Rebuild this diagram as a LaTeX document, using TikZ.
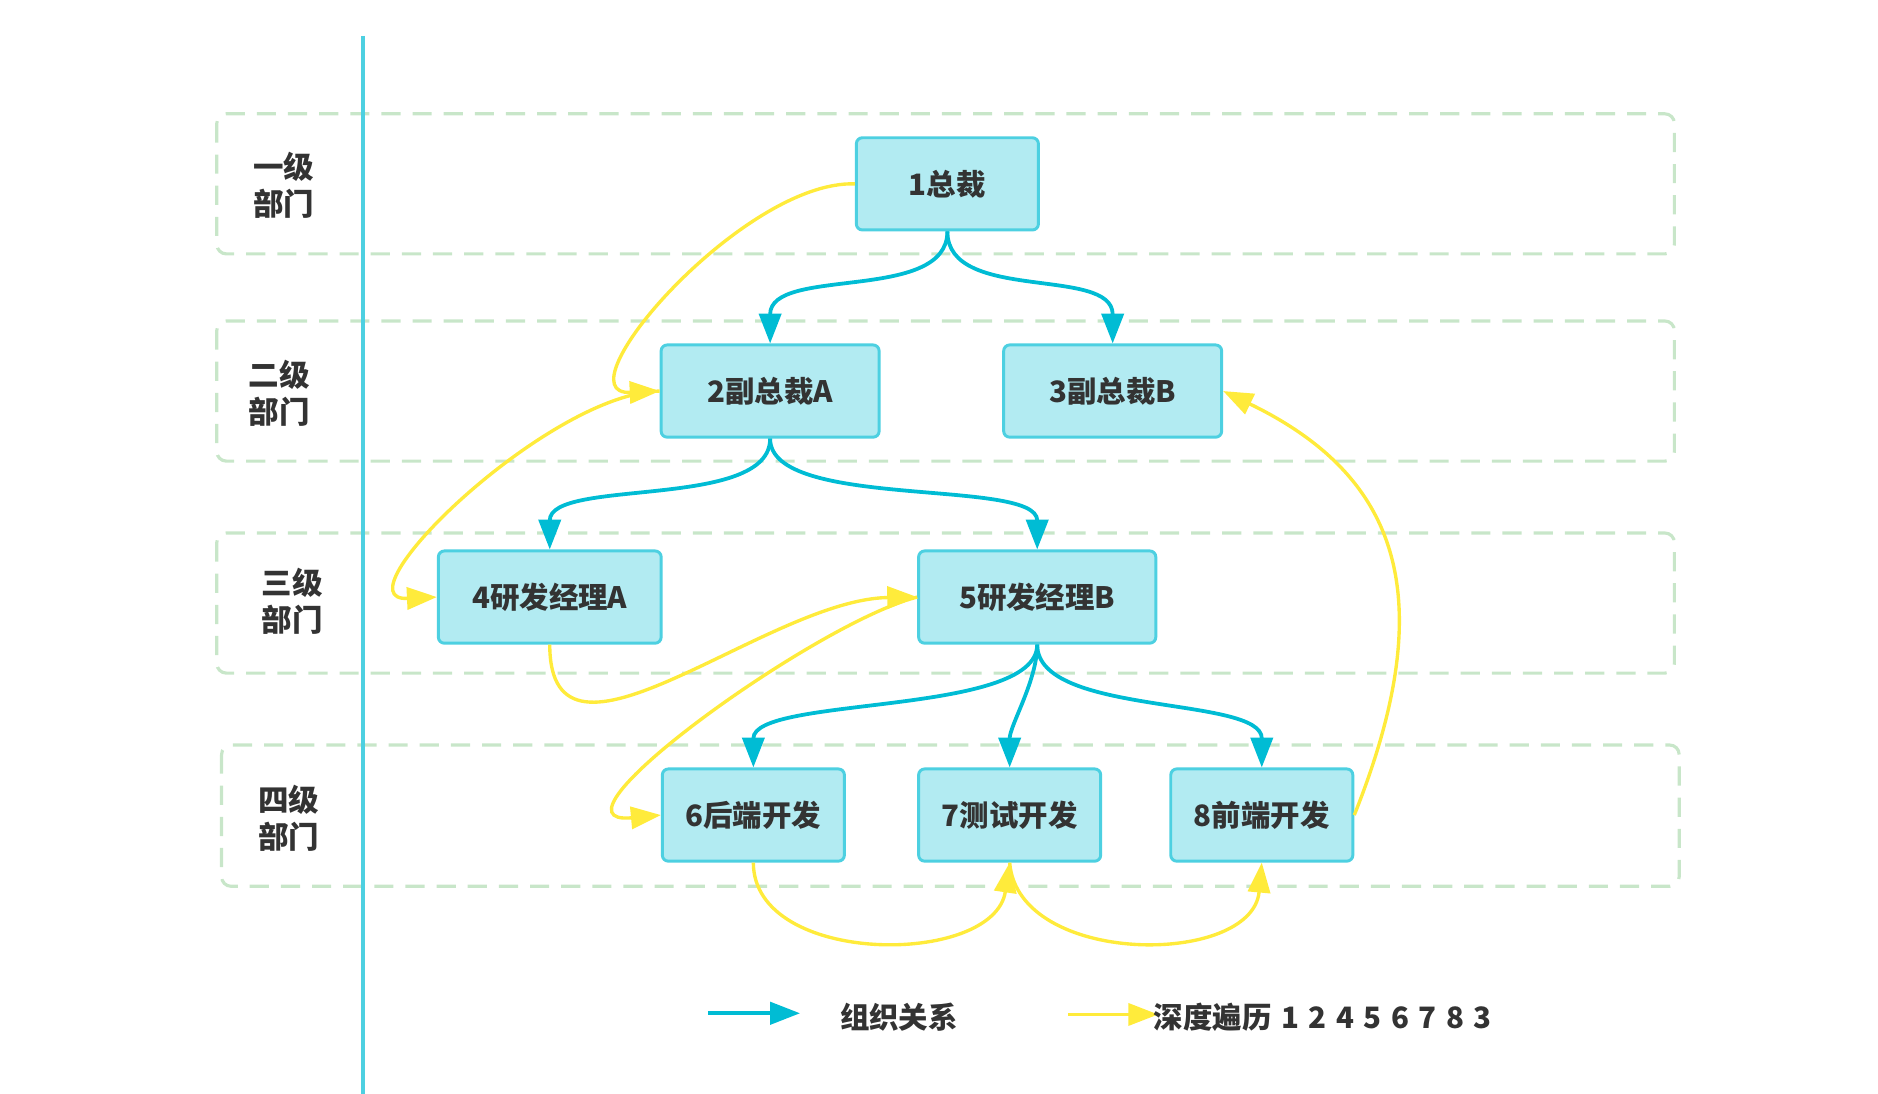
\documentclass[tikz,border=0pt]{standalone}
\usepackage{fontspec}
\setmainfont{Noto Sans CJK SC}
\usetikzlibrary{arrows.meta}
\definecolor{orgblue}{HTML}{00BCD4}
\definecolor{dfsyellow}{HTML}{FFEB3B}
\definecolor{boxfill}{HTML}{B2EBF2}
\definecolor{boxline}{HTML}{4DD0E1}
\definecolor{lanegreen}{HTML}{C8E6C9}
\definecolor{txt}{HTML}{333333}

\begin{document}
\begin{tikzpicture}[x=0.2mm,y=-0.2mm,>={Triangle[length=5mm,width=3.7mm]},
    lane/.style={draw=lanegreen,line width=1.5pt,dash pattern=on 3.2mm off 2mm,rounded corners=1.6mm},
    lanetext/.style={text=txt,font=\fontsize{14.5}{17.6}\selectfont\bfseries,align=center},
    keytext/.style={text=txt,font=\fontsize{14}{17}\selectfont\bfseries,
      execute at begin node={\spaceskip=1.6mm\relax},inner sep=0pt,anchor=west},
    dept/.style={draw=boxline,fill=boxfill,line width=1.4pt,rounded corners=1mm,
      minimum height=15.4mm,text=txt,font=\fontsize{14}{17}\selectfont\bfseries},
    org/.style={draw=orgblue,line width=1.8pt,->},
    dfs/.style={draw=dfsyellow,line width=1.6pt,->}]
  \useasboundingbox (0,0) rectangle (1568,913);
  % lanes
  \draw[lane] (181,95) rectangle (1398,212);
  \draw[lane] (181,268) rectangle (1398,385);
  \draw[lane] (181,445) rectangle (1398,562);
  \draw[lane] (185,622) rectangle (1402,740);
  \draw[boxline,line width=1.9pt] (303,30) -- (303,913);
  \node[lanetext] (lv1) at (237,155) {一级\\部门};
  \node[lanetext] (lv2) at (233,328) {二级\\部门};
  \node[lanetext] (lv3) at (244,502) {三级\\部门};
  \node[lanetext] (lv4) at (241,683) {四级\\部门};
  % departments
  \node[dept,minimum width=30.4mm] (n1) at (791,153.5) {1总裁};
  \node[dept,minimum width=36.4mm] (n2) at (643,326.5) {2副总裁A};
  \node[dept,minimum width=36.4mm] (n3) at (929,326.5) {3副总裁B};
  \node[dept,minimum width=37.2mm] (n4) at (459,498.5) {4研发经理A};
  \node[dept,minimum width=39.6mm] (n5) at (866,498.5) {5研发经理B};
  \node[dept,minimum width=30.4mm] (n6) at (629,680.5) {6后端开发};
  \node[dept,minimum width=30.4mm] (n7) at (843,680.5) {7测试开发};
  \node[dept,minimum width=30.4mm] (n8) at (1053.5,680.5) {8前端开发};
  % organisation
  \draw[org] (n1.south) .. controls +(0,60) and +(0,-65) .. (n2.north);
  \draw[org] (n1.south) .. controls +(0,60) and +(0,-65) .. (n3.north);
  \draw[org] (n2.south) .. controls +(0,60) and +(0,-60) .. (n4.north);
  \draw[org] (n2.south) .. controls +(0,60) and +(0,-60) .. (n5.north);
  \draw[org] (n5.south) .. controls +(0,60) and +(0,-60) .. (n6.north);
  \draw[org] (n5.south) .. controls +(0,30) and +(0,-35) .. (n7.north);
  \draw[org] (n5.south) .. controls +(0,60) and +(0,-60) .. (n8.north);
  % depth first walk
  \draw[dfs] (n1.west) .. controls +(-94,-3) and +(-86,4) .. (n2.west);
  \draw[dfs] (n2.west) .. controls +(-94,2) and +(-86,4) .. (n4.west);
  \draw[dfs] (n4.south) .. controls +(0,127) and +(-126,2) .. (n5.west);
  \draw[dfs] (n5.west) .. controls +(-86,22) and +(-106,10) .. (n6.west);
  \draw[dfs] (n6.south) .. controls +(0,87) and +(-13,87) .. (n7.south);
  \draw[dfs] (n7.south) .. controls +(7,87) and +(-8,87) .. (n8.south);
  \draw[dfs] (n8.east) .. controls +(72,-180) and +(149,72) .. (n3.east);
  % key
  \coordinate (orgA) at (591,846);
  \coordinate (orgB) at (668,846);
  \draw[org] (orgA) -- (orgB);
  \node[keytext] (orgkey) at (701,849) {组织关系};
  \coordinate (dfsA) at (892,847);
  \coordinate (dfsB) at (967,847);
  \draw[dfs] (dfsA) -- (dfsB);
  \node[keytext] (dfskey) at (963,849) {深度遍历 1 2 4 5 6 7 8 3};
\end{tikzpicture}
\end{document}
